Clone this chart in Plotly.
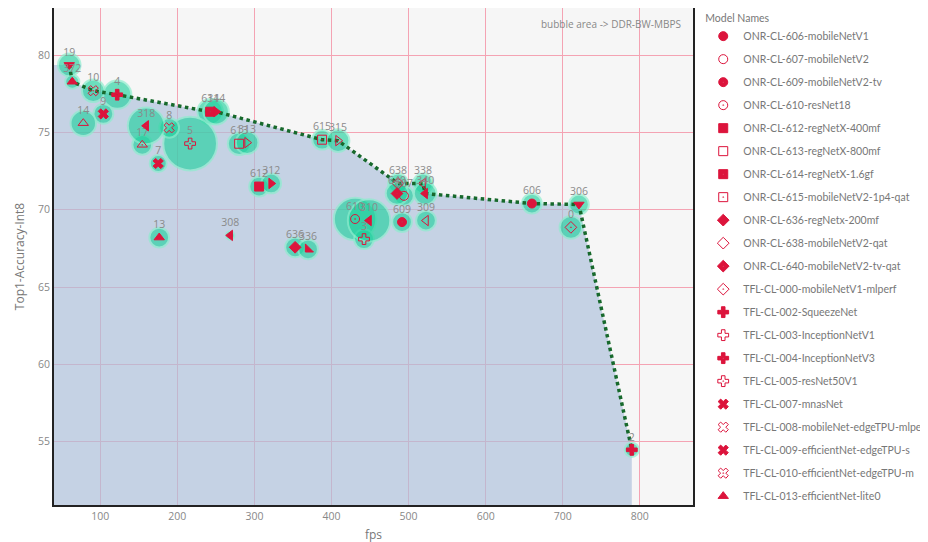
import plotly.graph_objects as go

# ---- data ----
model_names = [
    "ONR-CL-606-mobileNetV1", "ONR-CL-607-mobileNetV2", "ONR-CL-609-mobileNetV2-tv",
    "ONR-CL-610-resNet18", "ONR-CL-612-regNetX-400mf", "ONR-CL-613-regNetX-800mf",
    "ONR-CL-614-regNetX-1.6gf", "ONR-CL-615-mobileNetV2-1p4-qat", "ONR-CL-636-regNetx-200mf",
    "ONR-CL-638-mobileNetV2-qat", "ONR-CL-640-mobileNetV2-tv-qat", "TFL-CL-000-mobileNetV1-mlperf",
    "TFL-CL-002-SqueezeNet", "TFL-CL-003-InceptionNetV1", "TFL-CL-004-InceptionNetV3",
    "TFL-CL-005-resNet50V1", "TFL-CL-007-mnasNet", "TFL-CL-008-mobileNet-edgeTPU-mlperf",
    "TFL-CL-009-efficientNet-edgeTPU-s", "TFL-CL-010-efficientNet-edgeTPU-m",
    "TFL-CL-013-efficientNet-lite0", "TFL-CL-014-efficientNet-lite4", "TFL-CL-017-efficientNet-lite1",
    "TFL-CL-019-efficientNet-lite2", "TVM-CL-306-mobileNetV1", "TVM-CL-308-mobileNetV2",
    "TVM-CL-309-mobileNetV2-tv", "TVM-CL-310-resNet18", "TVM-CL-312-regNetX-400mf",
    "TVM-CL-313-regNetX-800mf", "TVM-CL-314-regNetX-1.6gf", "TVM-CL-315-mobileNetV2-1p4-qat",
    "TVM-CL-318-regNetX-3.2gf", "TVM-CL-336-regNetx-200mf", "TVM-CL-338-mobileNetV2-qat",
    "TVM-CL-340-mobileNetV2-tv-qat", "TVM-CL-372-mobileNetV1-qat",
]
labels = ["606", "607", "609", "610", "612", "613", "614", "615", "636", "638", "640", "0",
          "2", "3", "4", "5", "7", "8", "9", "10", "13", "14", "17", "19",
          "306", "308", "309", "310", "312", "313", "314", "315", "318", "336", "338", "340", "372"]
fps = [660.0, 494.0, 491.5, 430.6, 306.1, 280.2, 242.6, 387.8, 352.8, 486.3, 485.0, 710.6,
       789.6, 442.2, 122.0, 216.6, 175.2, 189.4, 104.0, 90.9, 176.5, 78.0, 154.5, 59.8,
       721.0, 268.6, 522.6, 448.7, 321.7, 290.5, 250.4, 408.5, 159.6, 369.6, 518.7, 521.5, 63.7]
accuracy = [70.4, 70.9, 69.2, 69.4, 71.5, 74.27, 76.34, 74.53, 67.57, 71.7, 71.05, 68.86,
            54.47, 68.1, 77.44, 74.28, 72.99, 75.3, 76.2, 77.7, 68.2, 75.6, 74.2, 79.37,
            70.34, 68.34, 69.3, 69.3, 71.7, 74.34, 76.34, 74.47, 75.43, 67.44, 71.7, 71.05, 78.28]
ddr_bw_mbps = [1950, 1960, 1940, 9000, 1950, 2560, 3240, 1950, 1960, 1950, 2550, 2560,
               1000, 1960, 4000, 14440, 1440, 1950, 1960, 2560, 1950, 3240, 1950, 2560,
               1960, 360, 1950, 9000, 1960, 2560, 3240, 2560, 6760, 1950, 1960, 2560, 1000]
symbols = ["circle", "circle-open", "circle-dot", "circle-open-dot", "square", "square-open",
           "square-dot", "square-open-dot", "diamond", "diamond-open", "diamond-dot", "diamond-open-dot",
           "cross", "cross-open", "cross-dot", "cross-open-dot", "x", "x-open", "x-dot", "x-open-dot",
           "triangle-up", "triangle-up-open", "triangle-up-open-dot", "triangle-down",
           "triangle-down-dot", "triangle-left", "triangle-left-open", "triangle-left-dot",
           "triangle-right", "triangle-right-open", "triangle-right-dot", "triangle-right-open-dot",
           "triangle-left-dot", "triangle-sw", "triangle-left-open", "triangle-left", "triangle-up"]

# pareto front (labels of the points on the front, in fps order)
front_labels = ["19", "372", "10", "4", "614", "314", "615", "315", "638", "338", "340", "606", "306", "2"]

front_fps = [fps[labels.index(l)] for l in front_labels]
front_acc = [accuracy[labels.index(l)] for l in front_labels]

fig = go.Figure()

# filled area under the front
fig.add_trace(go.Scatter(
    x=[0] + front_fps, y=[front_acc[0]] + front_acc,
    mode="lines", line=dict(width=0), fill="tozeroy",
    fillcolor="rgba(172,192,218,0.66)", showlegend=False, hoverinfo="skip"))

# bubbles (area -> DDR BW)
fig.add_trace(go.Scatter(
    x=fps, y=accuracy, mode="markers", showlegend=False, hoverinfo="skip",
    marker=dict(size=ddr_bw_mbps, sizemode="area", sizeref=10,
                color="rgba(30,208,156,0.9)",
                line=dict(color="rgba(140,238,206,0.95)", width=2))))

# front line
fig.add_trace(go.Scatter(
    x=front_fps, y=front_acc, mode="lines", showlegend=False, hoverinfo="skip",
    line=dict(color="#17692c", width=3.5, dash="dot")))

# symbols + labels, one trace per model
for name, lab, xv, yv, sym in zip(model_names, labels, fps, accuracy, symbols):
    fig.add_trace(go.Scatter(
        x=[xv], y=[yv], mode="markers+text", name=name, legendgroup=name,
        text=[lab], textposition="top center",
        textfont=dict(size=10.5, color="#8a8a8a"),
        marker=dict(symbol=sym, size=9, color="#dc143c",
                    line=dict(width=1, color="#dc143c"))))

fig.update_layout(
    width=928, height=542,
    margin=dict(l=46, r=243, t=0, b=45, autoexpand=False),
    paper_bgcolor="white", plot_bgcolor="#f6f6f6",
    font=dict(family="Open Sans, sans-serif", size=10, color="#777"),
    legend=dict(title=dict(text="Model Names", font=dict(family="Lato, sans-serif", size=10.5, color="#777")),
                x=1.016, xanchor="left", y=1.0, yanchor="top", tracegroupgap=4,
                font=dict(family="Lato, sans-serif", size=10.5, color="#777"),
                bgcolor="rgba(0,0,0,0)"),
    annotations=[dict(text="bubble area -> DDR-BW-MBPS", xref="paper", yref="paper",
                      x=0.985, y=0.985, xanchor="right", yanchor="top", showarrow=False,
                      font=dict(size=10, color="#888"))],
)
fig.update_xaxes(range=[40, 869], dtick=100, showgrid=True, gridcolor="#f4a3b3", gridwidth=1,
                 zeroline=False, showline=True, linecolor="#222", linewidth=2, mirror=True,
                 ticks="", tickfont=dict(size=10.5, color="#888"),
                 title=dict(text="fps", font=dict(size=12, color="#777"), standoff=9))
fig.update_yaxes(range=[50.9, 83.05], dtick=5, showgrid=True, gridcolor="#f4a3b3", gridwidth=1,
                 zeroline=False, showline=True, linecolor="#222", linewidth=2, mirror=True,
                 ticks="", tickfont=dict(size=10.5, color="#888"),
                 title=dict(text="Top1-Accuracy-Int8", font=dict(size=12, color="#777"), standoff=11))

fig.write_html("out.html")
